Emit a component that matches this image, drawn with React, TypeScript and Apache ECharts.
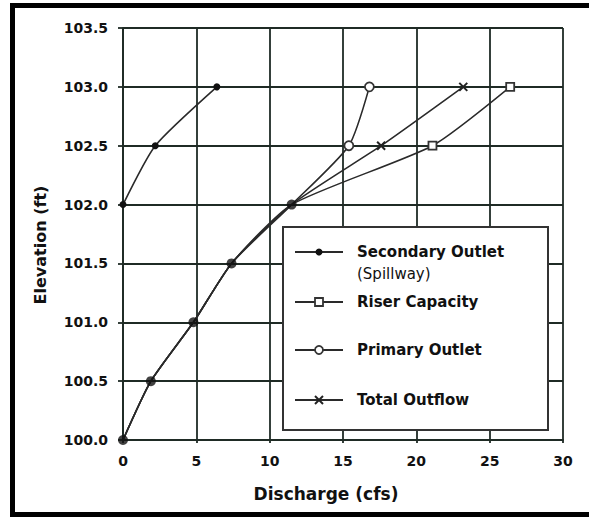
import React, { useEffect, useRef } from "react";
import * as echarts from "echarts";

const xTicks = [0, 5, 10, 15, 20, 25, 30];
const yTicks = [100.0, 100.5, 101.0, 101.5, 102.0, 102.5, 103.0, 103.5];

// Shared stem (primary outlet controls below 102 ft)
const stemQ = [0, 1.9, 4.8, 7.4, 11.5];
const stemH = [100.0, 100.5, 101.0, 101.5, 102.0];

const spillQ = [0, 2.2, 6.4];
const spillH = [102.0, 102.5, 103.0];

const riserQ = [21.1, 26.4];
const riserH = [102.5, 103.0];

const primaryQ = [15.4, 16.8];
const primaryH = [102.5, 103.0];

const totalQ = [17.6, 23.2];
const totalH = [102.5, 103.0];

const legendNames = ["Secondary Outlet", "Riser Capacity", "Primary Outlet", "Total Outflow"];

const LINE = "#2a2a2a";
const GRID = "#1f2b25";
const FONT = "DejaVu Sans";
const XMARK = "path://M0,0L10,10M10,0L0,10";

function branch(q: number[], h: number[]) {
  const stem = stemQ.map((x, i) => ({ value: [x, stemH[i]], symbol: "none" }));
  return stem.concat(q.map((x, i) => ({ value: [x, h[i]] })) as any);
}

export default function App() {
  const ref = useRef<HTMLDivElement>(null);
  useEffect(() => {
    const chart = echarts.init(ref.current!, undefined, { renderer: "svg" });
    const lineBase = {
      type: "line",
      smooth: 0.2,
      lineStyle: { color: LINE, width: 1.6 },
      z: 3,
    };
    const legendRows = [
      { y: 252, symbol: "dot" },
      { y: 302, symbol: "rect" },
      { y: 350, symbol: "circle" },
      { y: 400, symbol: "x" },
    ];
    const legendGraphics: any[] = [
      {
        type: "rect",
        shape: { x: 283, y: 227, width: 265, height: 203 },
        style: { fill: "#fff", stroke: "#333", lineWidth: 2 },
        z: 10,
      },
    ];
    legendRows.forEach((r, i) => {
      legendGraphics.push({
        type: "line",
        shape: { x1: 295, y1: r.y, x2: 343, y2: r.y },
        style: { stroke: LINE, lineWidth: 2 },
        z: 11,
      });
      if (r.symbol === "dot") {
        legendGraphics.push({ type: "circle", shape: { cx: 319, cy: r.y, r: 3.5 }, style: { fill: "#111" }, z: 12 });
      } else if (r.symbol === "rect") {
        legendGraphics.push({ type: "rect", shape: { x: 315, y: r.y - 4, width: 8, height: 8 }, style: { fill: "#fff", stroke: "#333", lineWidth: 1.8 }, z: 12 });
      } else if (r.symbol === "circle") {
        legendGraphics.push({ type: "circle", shape: { cx: 319, cy: r.y, r: 4 }, style: { fill: "#fff", stroke: "#333", lineWidth: 1.8 }, z: 12 });
      } else {
        legendGraphics.push({ type: "line", shape: { x1: 315, y1: r.y - 4, x2: 323, y2: r.y + 4 }, style: { stroke: "#222", lineWidth: 2 }, z: 12 });
        legendGraphics.push({ type: "line", shape: { x1: 315, y1: r.y + 4, x2: 323, y2: r.y - 4 }, style: { stroke: "#222", lineWidth: 2 }, z: 12 });
      }
      legendGraphics.push({
        type: "text",
        x: 357,
        y: r.y,
        style: { text: legendNames[i], font: `bold 15px "${FONT}"`, fill: "#111", verticalAlign: "middle" },
        z: 12,
      });
    });
    legendGraphics.push({
      type: "text",
      x: 357,
      y: 274,
      style: { text: "(Spillway)", font: `15px "${FONT}"`, fill: "#111", verticalAlign: "middle" },
      z: 12,
    });

    chart.setOption({
      animation: false,
      backgroundColor: "#fff",
      grid: { left: 123, top: 28, right: 26, bottom: 77 },
      xAxis: {
        type: "value",
        min: 0,
        max: 30,
        interval: 5,
        axisLine: { show: true, lineStyle: { color: GRID, width: 1.8 } },
        axisTick: { show: true, length: 3, lineStyle: { color: GRID, width: 1.8 } },
        splitLine: { show: true, lineStyle: { color: GRID, width: 1.8 } },
        axisLabel: {
          color: "#111",
          fontFamily: FONT,
          fontWeight: "bold",
          fontSize: 14,
          margin: 14,
          formatter: (v: number) => (xTicks.includes(v) ? String(v) : ""),
        },
      },
      yAxis: {
        type: "value",
        min: 100,
        max: 103.5,
        interval: 0.5,
        axisLine: { show: true, lineStyle: { color: GRID, width: 1.8 } },
        axisTick: { show: true, length: 5, lineStyle: { color: GRID, width: 1.8 } },
        splitLine: { show: true, lineStyle: { color: GRID, width: 1.8 } },
        axisLabel: {
          color: "#111",
          fontFamily: FONT,
          fontWeight: "bold",
          fontSize: 14,
          margin: 15,
          formatter: (v: number) => (yTicks.includes(v) ? v.toFixed(1) : ""),
        },
      },
      series: [
        {
          ...lineBase,
          name: "Riser Capacity",
          data: branch(riserQ, riserH),
          symbol: "rect",
          symbolSize: 8,
          itemStyle: { color: "#fff", borderColor: "#333", borderWidth: 1.8 },
        },
        {
          ...lineBase,
          name: "Primary Outlet",
          data: branch(primaryQ, primaryH),
          symbol: "circle",
          symbolSize: 9,
          itemStyle: { color: "#fff", borderColor: "#333", borderWidth: 1.8 },
        },
        {
          ...lineBase,
          name: "Total Outflow",
          data: branch(totalQ, totalH),
          symbol: XMARK,
          symbolSize: 8,
          itemStyle: { color: "none", borderColor: "#222", borderWidth: 2 },
        },
        {
          ...lineBase,
          name: "Secondary Outlet",
          data: spillQ.map((x, i) => [x, spillH[i]]),
          symbol: "circle",
          symbolSize: 7,
          itemStyle: { color: "#111" },
        },
        {
          type: "scatter",
          name: "Stem",
          data: stemQ.map((x, i) => [x, stemH[i]]),
          symbol: "circle",
          symbolSize: 10,
          itemStyle: { color: "#111" },
          z: 5,
        },
      ],
      graphic: [
        { type: "rect", shape: { x: 10, y: 3, width: 579, height: 5 }, style: { fill: "#000" }, z: 20 },
        { type: "rect", shape: { x: 10, y: 3, width: 5, height: 514 }, style: { fill: "#000" }, z: 20 },
        { type: "rect", shape: { x: 10, y: 512, width: 579, height: 5 }, style: { fill: "#000" }, z: 20 },
        {
          type: "text",
          x: 40,
          y: 245,
          rotation: Math.PI / 2,
          style: { text: "Elevation (ft)", font: `bold 16px "${FONT}"`, fill: "#111", align: "center", verticalAlign: "middle" },
          z: 12,
        },
        {
          type: "text",
          x: 326,
          y: 494,
          style: { text: "Discharge (cfs)", font: `bold 17px "${FONT}"`, fill: "#111", align: "center", verticalAlign: "middle" },
          z: 12,
        },
        ...legendGraphics,
      ],
    });
    return () => chart.dispose();
  }, []);
  return <div ref={ref} style={{ position: "fixed", left: 0, top: 0, width: 589, height: 517 }} />;
}
